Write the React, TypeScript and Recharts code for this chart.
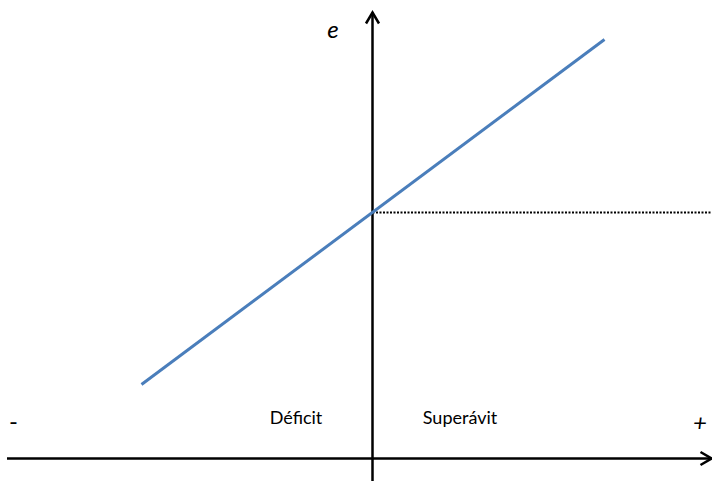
import React from "react";
import { LineChart, Line, XAxis, YAxis, ReferenceLine } from "recharts";

// Balance (x: deficit < 0 < surplus) and exchange rate e (y)
const balance = [-2.31, 2.32];
const eValues = [0.74, 4.19];
const eAtZero = [2.46];
const axisLabels = { y: "e", minus: "-", plus: "+" };
const regionLabels = ["Déficit", "Superávit"];

const X_DOMAIN: [number, number] = [-3.725, 3.395];
const Y_DOMAIN: [number, number] = [-0.225, 4.585];

const lineData = balance.map((x, i) => ({ x, e: eValues[i] }));

const ArrowLine = (props: any) => {
  const { x1, y1, x2, y2 } = props;
  const dx = x2 - x1;
  const dy = y2 - y1;
  const len = Math.sqrt(dx * dx + dy * dy) || 1;
  const ux = dx / len;
  const uy = dy / len;
  const back = 11;
  const half = 6.5;
  const bx = x2 - ux * back;
  const by = y2 - uy * back;
  const px = -uy * half;
  const py = ux * half;
  return (
    <g>
      <line x1={x1} y1={y1} x2={x2} y2={y2} stroke="#000" strokeWidth={2.5} />
      <polyline
        points={`${bx + px},${by + py} ${x2},${y2} ${bx - px},${by - py}`}
        fill="none"
        stroke="#000"
        strokeWidth={2.5}
      />
    </g>
  );
};

const font = "Lato, 'Open Sans', sans-serif";

export default function App() {
  return (
    <div style={{ position: "absolute", left: 0, top: 0, width: 712, height: 481, background: "#fff" }}>
      <LineChart width={712} height={481} margin={{ top: 0, right: 0, bottom: 0, left: 0 }}>
        <XAxis type="number" dataKey="x" domain={X_DOMAIN} hide allowDataOverflow />
        <YAxis type="number" domain={Y_DOMAIN} hide allowDataOverflow />
        <ReferenceLine
          segment={[{ x: 0, y: eAtZero[0] }, { x: X_DOMAIN[1], y: eAtZero[0] }]}
          stroke="#000"
          strokeWidth={2}
          strokeDasharray="2 1.5"
          ifOverflow="extendDomain"
        />
        <ReferenceLine
          segment={[{ x: -3.655, y: 0 }, { x: 3.39, y: 0 }]}
          shape={ArrowLine}
          ifOverflow="extendDomain"
        />
        <ReferenceLine
          segment={[{ x: 0, y: Y_DOMAIN[0] }, { x: 0, y: 4.46 }]}
          shape={ArrowLine}
          ifOverflow="extendDomain"
        />
        <Line
          data={lineData}
          dataKey="e"
          type="linear"
          stroke="#4A7EBB"
          strokeWidth={3}
          dot={false}
          activeDot={false}
          isAnimationActive={false}
        />
        <text x={333} y={38} textAnchor="middle" fontFamily={font} fontSize={24} fontStyle="italic" fill="#000">
          {axisLabels.y}
        </text>
        <text x={13.5} y={430} textAnchor="middle" fontFamily={font} fontSize={24} fill="#000">
          {axisLabels.minus}
        </text>
        <text x={700} y={431} textAnchor="middle" fontFamily={font} fontSize={24} fontStyle="italic" fill="#000">
          {axisLabels.plus}
        </text>
        <text x={296} y={424} textAnchor="middle" fontFamily={font} fontSize={18} fill="#000">
          {regionLabels[0]}
        </text>
        <text x={460} y={424} textAnchor="middle" fontFamily={font} fontSize={18} fill="#000">
          {regionLabels[1]}
        </text>
      </LineChart>
    </div>
  );
}
